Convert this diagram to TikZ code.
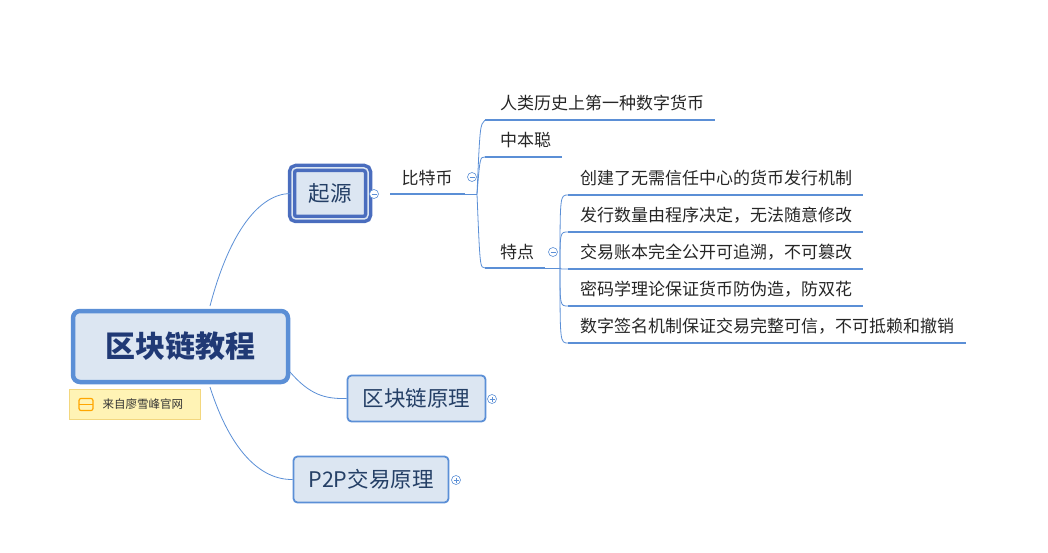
\documentclass[tikz,border=0pt]{standalone}
\usepackage{fontspec}
\setmainfont{Noto Sans CJK SC}
\begin{document}
\begin{tikzpicture}[x=1pt,y=-1pt,
  line/.style={draw=lineblue,line width=0.8pt},
  uline/.style={draw=lineblue,line width=2pt},
  topic/.style={draw=boxblue,fill=boxfill,line width=2pt,rounded corners=4pt,text=titleblue,font=\fontsize{21.5}{24}\selectfont},
  leaf/.style={anchor=west,font=\fontsize{17}{19}\selectfont,text=black!85,inner sep=0pt},
  knob/.style={circle,draw=lineblue,fill=white,line width=0.6pt,minimum size=9pt,inner sep=0pt}]
\definecolor{lineblue}{HTML}{5B8FD6}
\definecolor{boxblue}{HTML}{5B8FD6}
\definecolor{darkblue}{HTML}{4A6DBE}
\definecolor{boxfill}{HTML}{DCE6F2}
\definecolor{titleblue}{HTML}{243F66}
\definecolor{notefill}{HTML}{FFF3B5}
\definecolor{noteedge}{HTML}{F3D77E}
\newcommand{\minusknob}[2]{\node[knob] (#1) at #2 {}; \draw[lineblue,line width=0.6pt] ([xshift=-2.5pt]#1.center) -- ([xshift=2.5pt]#1.center);}
\newcommand{\plusknob}[2]{\minusknob{#1}{#2} \draw[lineblue,line width=0.6pt] ([yshift=-2.5pt]#1.center) -- ([yshift=2.5pt]#1.center);}
\useasboundingbox (0,0) rectangle (1048,553);
% root
\node[draw=boxblue,fill=boxfill,line width=4.5pt,rounded corners=7pt,minimum width=215pt,minimum height=71pt,text=titleblue!90!blue,font=\bfseries\fontsize{30}{34}\selectfont] (root) at (180.5,346.5) {区块链教程};
\node[draw=noteedge,fill=notefill,line width=0.8pt,minimum width=131pt,minimum height=30pt,anchor=north west,font=\fontsize{11.5}{13}\selectfont,text=black!80,inner sep=0pt] (note) at (69,389) {\hspace*{16pt}来自廖雪峰官网};
\draw[draw=orange!70!yellow,line width=1.2pt,rounded corners=2pt] (79,398.5) rectangle (93,410.5);
\draw[draw=orange!70!yellow,line width=1.2pt] (79,404.5) -- (93,404.5);
% topics
\node[topic,draw=darkblue,line width=3.5pt,double=boxfill,double distance=1.5pt,minimum width=76pt,minimum height=51pt] (qy) at (330,193.5) {起源};
\node[topic,line width=1.8pt,minimum width=138pt,minimum height=46pt] (yl) at (416.5,398.5) {区块链原理};
\node[topic,line width=1.8pt,minimum width=155pt,minimum height=46pt] (p2p) at (371,479.5) {P2P交易原理};
\draw[line] (210,306) .. controls (230,230) and (260,194) .. (qy.west);
\draw[line] (290,372) .. controls (310,395) and (325,399) .. (yl.west);
\draw[line] (210,387) .. controls (230,450) and (260,480) .. (p2p.west);
\plusknob{k1}{(492,399)}
\plusknob{k2}{(456,480)}
% bitcoin
\coordinate (bs) at (390,194);
\coordinate (be) at (465,194);
\coordinate (bj) at (477,194);
\node[leaf,anchor=center] (btc) at (427,178) {比特币};
\draw[uline] (bs) -- (be);
\draw[line] (be) -- (bj);
\minusknob{k3}{(374,194)}
\minusknob{k4}{(472,177)}
% level 3
\coordinate (a1) at (485,120); \coordinate (a1e) at (715,120);
\coordinate (a2) at (485,157); \coordinate (a2e) at (562,157);
\coordinate (a3) at (485,268); \coordinate (a3e) at (545,268);
\node[leaf] (t1) at (500,103) {人类历史上第一种数字货币};
\node[leaf] (t2) at (500,140) {中本聪};
\node[leaf] (t3) at (500,252) {特点};
\draw[uline] (a1) -- (a1e);
\draw[uline] (a2) -- (a2e);
\draw[uline] (a3) -- (a3e);
\draw[line] (bj) .. controls (480,125) .. (a1);
\draw[line] (bj) .. controls (480,157) .. (a2);
\draw[line] (bj) .. controls (480,268) .. (a3);
\coordinate (fj) at (560,268);
\draw[line] (a3e) -- (fj);
\minusknob{k5}{(553,252)}
% level 4
\foreach \y/\t/\e [count=\i] in {178/创建了无需信任中心的货币发行机制/863,215/发行数量由程序决定，无法随意修改/863,252/交易账本完全公开可追溯，不可篡改/863,289/密码学理论保证货币防伪造，防双花/863,326/数字签名机制保证交易完整可信，不可抵赖和撤销/966}{
  \pgfmathsetmacro{\u}{\y+17}
  \node[leaf] (f\i) at (580,\y) {\t};
  \coordinate (fs\i) at (568,\u);
  \coordinate (fe\i) at (\e,\u);
  \draw[uline] (fs\i) -- (fe\i);
  \draw[line] (fj) .. controls (560,\u) .. (fs\i);
}
\end{tikzpicture}
\end{document}
